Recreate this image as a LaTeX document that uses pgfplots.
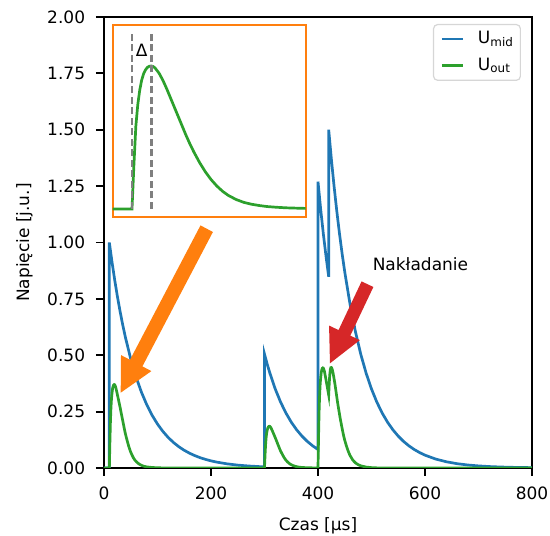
\documentclass[border=0pt]{standalone}
\usepackage{fontspec}
\setmainfont{DejaVu Sans}
\usepackage{pgfplots}
\pgfplotsset{compat=1.18}
\definecolor{mblue}{HTML}{1F77B4}
\definecolor{mgreen}{HTML}{2CA02C}
\definecolor{morange}{HTML}{FF7F0E}
\definecolor{mred}{HTML}{D62728}
\definecolor{mgray}{HTML}{7F7F7F}
\definecolor{lgray}{HTML}{D6D6D6}
\newcommand{\fs}{\fontsize{17}{20.5}\selectfont}

\begin{document}
\begin{tikzpicture}
\path[use as bounding box] (-104pt,-68pt) rectangle (446pt,468pt);
\begin{axis}[
  at={(0pt,0pt)}, anchor=south west,
  scale only axis, width=428pt, height=451pt,
  xmin=0, xmax=800, ymin=0, ymax=2,
  xtick={0,200,400,600,800},
  ytick={0,0.25,0.5,0.75,1,1.25,1.5,1.75,2},
  xtick pos=bottom, ytick pos=left,
  tick align=outside, major tick length=8pt,
  every tick/.style={black, line width=1.8pt},
  axis line style={line width=1.8pt},
  /pgf/number format/assume math mode=true,
  yticklabel style={/pgf/number format/fixed, /pgf/number format/fixed zerofill,
    /pgf/number format/precision=2},
  tick label style={font=\fs, inner sep=0pt},
  xticklabel style={anchor=north, yshift=-11pt},
  yticklabel style={anchor=east, xshift=-10.7pt},
  xlabel={Czas [µs]}, ylabel={Napięcie [j.u.]},
  label style={font=\fs, inner sep=0pt},
  xlabel style={at={(axis description cs:0.5,-0.1375)}, anchor=base},
  ylabel style={at={(axis description cs:-0.1752,0.5)}, anchor=base},
  legend style={at={(0.9743,0.9845)}, anchor=north east, font=\fs,
    draw=lgray, rounded corners=4pt, line width=1.2pt,
    inner xsep=7pt, inner ysep=6pt, row sep=9.7pt,
    nodes={inner sep=0pt, text height=13pt, text depth=4pt},
    /tikz/every odd column/.append style={column sep=14pt}},
  legend image code/.code={\draw[#1, line width=2.7pt] (0pt,0pt) -- (20.7pt,0pt);},
  legend cell align=left,
]
\addplot[mblue, line width=2.7pt] coordinates {
 (0,0) (10,0) (10,1) (15,0.9131) (20,0.8338) (25,0.7613) (30,0.6952) (35,0.6348)
 (40,0.5797) (50,0.4833) (60,0.4030) (70,0.3360) (80,0.2802) (90,0.2336)
 (100,0.1948) (110,0.1624) (120,0.1354) (130,0.1129) (140,0.0942) (150,0.0785)
 (160,0.0655) (170,0.0546) (180,0.0455) (190,0.0380) (200,0.0317) (210,0.0264)
 (230,0.0184) (250,0.0128) (270,0.0089) (290,0.0062) (300,0.0051)
 (300,0.505) (305,0.4611) (310,0.4211) (320,0.3511) (330,0.2927) (340,0.2441)
 (350,0.2035) (360,0.1697) (370,0.1415) (380,0.1180) (390,0.0984) (400,0.0820)
 (400,1.27) (405,1.148) (410,1.038) (415,0.939) (420,0.848)
 (420,1.5) (425,1.3697) (430,1.2507) (435,1.142) (440,1.0428) (445,0.952)
 (450,0.8696) (460,0.7250) (470,0.6045) (480,0.5040) (490,0.4203) (500,0.3504)
 (510,0.2922) (520,0.2436) (530,0.2031) (540,0.1694) (550,0.1413) (560,0.1178)
 (570,0.0982) (580,0.0819) (590,0.0683) (600,0.0570) (620,0.0396) (640,0.0276)
 (660,0.0191) (680,0.0133) (700,0.0093) (720,0.0064) (740,0.0045) (760,0.0031)
 (780,0.0022) (800,0.0015)
};
\addlegendentry{U\textsubscript{mid}}
\addplot[mgreen, line width=2.7pt] coordinates {
 (0,0) (10,0) (11,0.111) (12,0.2035) (13,0.2664) (14,0.3071) (15,0.333)
 (16,0.3515) (17,0.3626) (18,0.3682) (19,0.37) (20,0.3689) (21,0.3645)
 (22,0.3571) (24,0.3367) (26,0.3145) (28,0.2923) (30,0.2701) (32,0.2461)
 (34,0.222) (36,0.198) (38,0.1739) (40,0.1517) (43,0.124) (46,0.098)
 (49,0.0759) (52,0.0592) (55,0.0451) (58,0.0344) (61,0.0266) (65,0.0185)
 (70,0.0118) (75,0.0074) (80,0.0048) (90,0.0022) (100,0.0011) (110,0.0004)
 (120,0) (300,0)
 (301,0.0555) (302,0.1018) (303,0.1332) (304,0.1536) (305,0.1665) (306,0.1758)
 (307,0.1813) (308,0.1841) (309,0.185) (310,0.1844) (311,0.1822) (312,0.1785)
 (314,0.1684) (316,0.1573) (318,0.1462) (320,0.1351) (322,0.123) (324,0.111)
 (326,0.099) (328,0.087) (330,0.0759) (333,0.062) (336,0.049) (339,0.0379)
 (342,0.0296) (345,0.0226) (348,0.0172) (351,0.0133) (355,0.0093) (360,0.0059)
 (365,0.0037) (370,0.0024) (380,0.0011) (390,0.0006) (400,0)
 (401,0.1332) (402,0.2442) (403,0.3197) (404,0.3685) (405,0.3996) (406,0.4218)
 (407,0.4351) (408,0.4418) (409,0.444) (410,0.4427) (411,0.4373) (412,0.4285)
 (414,0.404) (416,0.3774) (418,0.3508) (420,0.3241) (421,0.3742) (422,0.4136)
 (423,0.4356) (424,0.4449) (425,0.4455) (426,0.4418) (427,0.4338) (428,0.4226)
 (429,0.4104) (430,0.3964) (432,0.3673) (434,0.3341) (436,0.3005) (438,0.2698)
 (440,0.2414) (442,0.214) (444,0.1889) (446,0.1647) (448,0.1424) (450,0.1233)
 (452,0.1069) (455,0.0842) (458,0.0657) (460,0.0551) (465,0.0351) (470,0.0228)
 (475,0.015) (480,0.0096) (490,0.0041) (500,0.0017) (510,0.0006) (520,0) (800,0)
};
\addlegendentry{U\textsubscript{out}}
% arrows
\fill[morange] (axis cs:203.6,1.0466) -- (axis cs:71.8,0.4506) -- (axis cs:88.6,0.4297)
  -- (axis cs:31.2,0.3339) -- (axis cs:31.8,0.5007) -- (axis cs:48.6,0.4798)
  -- (axis cs:180.4,1.0758) -- cycle;
\fill[mred] (axis cs:503.5,0.8027) -- (axis cs:460.4,0.5870) -- (axis cs:478.2,0.5671)
  -- (axis cs:422.4,0.4643) -- (axis cs:420.7,0.6317) -- (axis cs:438.4,0.6117)
  -- (axis cs:481.5,0.8275) -- cycle;
\node[anchor=base west, inner sep=0pt, font=\fs] at (axis cs:502,0.878) {Nakładanie};
\end{axis}

\begin{axis}[
  at={(8.7pt,250.7pt)}, anchor=south west,
  scale only axis, width=193pt, height=192.3pt,
  xmin=0, xmax=100, ymin=-0.0215, ymax=0.476,
  xtick=\empty, ytick=\empty,
  axis line style={draw=morange, line width=2pt},
  axis background/.style={fill=white},
]
\addplot[mgreen, line width=2.7pt] coordinates {
 (0,0) (10,0) (11,0.1147) (12,0.2146) (13,0.2701) (14,0.3071) (15,0.333)
 (16,0.3497) (17,0.36) (18,0.3663) (19,0.3693) (20,0.37) (21,0.3685) (22,0.3645)
 (24,0.3515) (26,0.333) (28,0.3108) (30,0.2868) (32,0.2627) (34,0.2387)
 (36,0.2146) (38,0.1906) (40,0.1684) (42,0.148) (45,0.1203) (48,0.0962)
 (51,0.0759) (54,0.0592) (57,0.0455) (60,0.0348) (64,0.0244) (68,0.017)
 (72,0.0122) (76,0.0089) (80,0.0063) (85,0.0044) (90,0.003) (95,0.0022) (100,0.0015)
};
\addplot[mgray, line width=2.7pt, dash pattern=on 7pt off 3.5pt] coordinates {(10,0) (10,0.453)};
\addplot[mgray, line width=2.7pt, dash pattern=on 7pt off 3.5pt] coordinates {(20,0) (20,0.453)};
\node[font=\fs, inner sep=0pt] at (axis cs:15,0.41) {Δ};
\end{axis}
\end{tikzpicture}
\end{document}
